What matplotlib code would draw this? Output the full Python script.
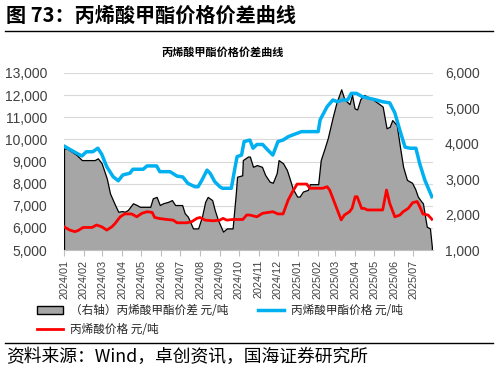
import matplotlib
matplotlib.use("Agg")
import matplotlib.pyplot as plt
import matplotlib.dates as mdates
import matplotlib.transforms as mtransforms
from matplotlib.lines import Line2D
from matplotlib.patches import Patch
import pandas as pd

plt.rcParams['font.family'] = ['Liberation Sans', 'Noto Sans CJK SC', 'DejaVu Sans']
CJK = ['Noto Sans CJK SC', 'DejaVu Sans']

# ---------------- data ----------------
mma_dates = ["2024-01-01", "2024-01-21", "2024-01-29", "2024-02-05", "2024-02-15", "2024-02-23",
             "2024-02-29", "2024-03-08", "2024-03-18", "2024-03-26", "2024-04-02", "2024-04-13",
             "2024-04-18", "2024-05-04", "2024-05-10", "2024-05-25", "2024-05-30", "2024-06-15",
             "2024-06-26", "2024-07-05", "2024-07-13", "2024-07-24", "2024-07-29", "2024-08-04",
             "2024-08-12", "2024-08-17", "2024-08-24", "2024-09-01", "2024-09-05", "2024-09-19",
             "2024-09-25", "2024-09-28", "2024-10-05", "2024-10-09", "2024-10-18", "2024-10-23",
             "2024-10-29", "2024-11-07", "2024-11-15", "2024-11-23", "2024-12-01", "2024-12-09",
             "2024-12-17", "2024-12-24", "2025-01-07", "2025-02-02", "2025-02-05", "2025-02-16",
             "2025-02-25", "2025-03-04", "2025-03-12", "2025-03-20", "2025-03-26", "2025-04-03",
             "2025-04-12", "2025-05-04", "2025-05-14", "2025-05-25", "2025-06-02", "2025-06-10",
             "2025-06-18", "2025-06-26", "2025-07-05", "2025-07-11", "2025-07-19", "2025-07-30"]
mma_price = [9700, 9370, 9250, 9440, 9440, 9600,
             9330, 8760, 8310, 8130, 8390, 8470,
             8650, 8650, 8800, 8800, 8540, 8540,
             8340, 8300, 8010, 7860, 7860, 8160,
             8610, 8460, 8090, 7860, 7790, 7790,
             8760, 9220, 9290, 9900, 9970, 9600,
             9770, 9770, 9520, 9290, 9900, 9970,
             10120, 10200, 10350, 10350, 10880, 11480,
             11780, 11700, 11780, 11780, 12080, 12080,
             11930, 11780, 11700, 11650, 11200, 10400,
             9650, 9600, 9600, 8900, 8160, 7410]

aa_dates = ["2024-01-01", "2024-01-10", "2024-01-18", "2024-01-23", "2024-01-31", "2024-02-14",
            "2024-02-21", "2024-02-29", "2024-03-08", "2024-03-16", "2024-03-21", "2024-03-29",
            "2024-04-05", "2024-04-16", "2024-04-24", "2024-05-02", "2024-05-10", "2024-05-18",
            "2024-05-22", "2024-05-30", "2024-06-10", "2024-06-20", "2024-06-26", "2024-07-11",
            "2024-07-19", "2024-07-27", "2024-08-01", "2024-08-09", "2024-08-21", "2024-09-01",
            "2024-09-06", "2024-09-12", "2024-09-21", "2024-10-07", "2024-10-13", "2024-10-18",
            "2024-10-29", "2024-11-07", "2024-11-23", "2024-12-01", "2024-12-09", "2024-12-17",
            "2024-12-24", "2024-12-31", "2025-01-15", "2025-01-20", "2025-02-09", "2025-02-16",
            "2025-02-20", "2025-02-28", "2025-03-04", "2025-03-10", "2025-03-15", "2025-03-23",
            "2025-03-27", "2025-04-01", "2025-04-04", "2025-04-11", "2025-04-15", "2025-04-20",
            "2025-05-14", "2025-05-20", "2025-05-25", "2025-06-02", "2025-06-10", "2025-06-15",
            "2025-06-23", "2025-06-30", "2025-07-07", "2025-07-11", "2025-07-16", "2025-07-24",
            "2025-07-30"]
aa_price = [6050, 5900, 5830, 5880, 6020, 6020,
            6130, 6050, 5900, 6050, 6200, 6500,
            6630, 6630, 6500, 6660, 6730, 6700,
            6470, 6420, 6380, 6350, 6230, 6230,
            6280, 6430, 6470, 6350, 6320, 6350,
            6430, 6350, 6380, 6380, 6580, 6580,
            6500, 6660, 6730, 6630, 6630, 7260,
            7640, 7980, 7980, 7790, 7790, 7860,
            7710, 7110, 6810, 6360, 6580, 6730,
            6880, 7410, 7410, 6880, 6880, 6810,
            6810, 7710, 7110, 6500, 6580, 6730,
            6880, 7140, 7190, 6960, 6630, 6580,
            6390]

spread_dates = ["2024-01-01", "2024-01-05", "2024-01-13", "2024-01-21", "2024-01-29", "2024-02-18",
                "2024-02-23", "2024-02-29", "2024-03-08", "2024-03-13", "2024-03-21", "2024-03-26",
                "2024-04-01", "2024-04-05", "2024-04-10", "2024-04-18", "2024-04-24", "2024-04-29",
                "2024-05-15", "2024-05-19", "2024-05-25", "2024-05-30", "2024-06-04", "2024-06-12",
                "2024-06-18", "2024-06-23", "2024-07-04", "2024-07-08", "2024-07-13", "2024-07-21",
                "2024-07-29", "2024-08-04", "2024-08-09", "2024-08-13", "2024-08-20", "2024-08-24",
                "2024-08-29", "2024-09-06", "2024-09-12", "2024-09-21", "2024-09-26", "2024-09-28",
                "2024-10-06", "2024-10-07", "2024-10-15", "2024-10-18", "2024-10-23", "2024-10-29",
                "2024-11-06", "2024-11-11", "2024-11-18", "2024-11-23", "2024-11-29", "2024-12-02",
                "2024-12-09", "2024-12-15", "2024-12-20", "2024-12-24", "2024-12-31", "2025-01-04",
                "2025-01-09", "2025-01-17", "2025-01-20", "2025-02-02", "2025-02-06", "2025-02-12",
                "2025-02-17", "2025-02-25", "2025-03-03", "2025-03-07", "2025-03-10", "2025-03-15",
                "2025-03-23", "2025-03-27", "2025-03-31", "2025-04-04", "2025-04-09", "2025-04-15",
                "2025-04-28", "2025-05-09", "2025-05-14", "2025-05-20", "2025-05-25", "2025-05-29",
                "2025-06-05", "2025-06-10", "2025-06-15", "2025-06-21", "2025-06-29", "2025-07-04",
                "2025-07-08", "2025-07-14", "2025-07-16", "2025-07-22", "2025-07-27", "2025-07-30"]
spread = [3870, 3870, 3780, 3680, 3540, 3540,
          3590, 3450, 3020, 2600, 2270, 2080,
          2100, 2080, 2130, 2320, 2270, 2220,
          2220, 2460, 2500, 2270, 2320, 2360,
          2410, 2270, 2270, 2040, 1940, 1610,
          1610, 1940, 2360, 2500, 2410, 2130,
          1850, 1520, 1610, 1610, 2600, 3070,
          3110, 3540, 3640, 3640, 3350, 3400,
          3350, 3120, 2930, 2900, 3170, 3540,
          3450, 3260, 2980, 2740, 2510, 2510,
          2650, 2700, 2860, 2860, 3540, 3870,
          4160, 4770, 5190, 5380, 5540, 5260,
          5120, 5380, 5000, 4970, 5260, 5380,
          5260, 5120, 5050, 4440, 4480, 4670,
          4530, 3920, 3350, 2980, 2900, 2720,
          2510, 2360, 2320, 1660, 1610, 1090]

left_ticks = [5000, 6000, 7000, 8000, 9000, 10000, 11000, 12000, 13000]
right_ticks = [1000, 2000, 3000, 4000, 5000, 6000]

legend_labels = ["（右轴）丙烯酸甲酯价差 元/吨", "丙烯酸价格 元/吨", "丙烯酸甲酯价格 元/吨"]
header = "图 73：丙烯酸甲酯价格价差曲线"
chart_title = "丙烯酸甲酯价格价差曲线"
source = "资料来源：Wind，卓创资讯，国海证券研究所"

# ---------------- figure ----------------
W, H = 498, 372
fig = plt.figure(figsize=(W / 100, H / 100), dpi=100)

def fx(px):
    return px / W

def fy(py):
    return 1 - py / H

x0, x1, y0, y1 = 64, 432.5, 73, 250
ax2 = fig.add_axes([fx(x0), fy(y1), fx(x1) - fx(x0), fy(y0) - fy(y1)])
ax = ax2.twinx()
ax.yaxis.tick_left()
ax2.yaxis.tick_right()
ax.set_zorder(ax2.get_zorder() + 1)
ax.patch.set_visible(False)

md = pd.to_datetime(mma_dates)
ad = pd.to_datetime(aa_dates)
sd = pd.to_datetime(spread_dates)

ax.set_ylim(5000, 13000)
ax2.set_ylim(1000, 6000)
xmin, xmax = pd.Timestamp("2024-01-01"), pd.Timestamp("2025-07-31")
ax2.set_xlim(xmin, xmax)

# gridlines (left-axis values) drawn beneath the area
trans = mtransforms.blended_transform_factory(ax2.transAxes, ax.transData)
for v in left_ticks[1:]:
    ax2.add_line(Line2D([0, 1], [v, v], transform=trans, color='#d9d9d9', lw=0.8, zorder=0))

ax2.fill_between(sd, spread, 0, facecolor='#a6a6a6', edgecolor='black', lw=0.9, zorder=1)

ax.plot(md, mma_price, color='#00b0f0', lw=2.5, solid_joinstyle='round')
ax.plot(ad, aa_price, color='#ff0000', lw=2.0, solid_joinstyle='round')

ax.set_yticks(left_ticks)
ax.set_yticklabels([f"{v:,}" for v in left_ticks])
ax2.set_yticks(right_ticks)
ax2.set_yticklabels([f"{v:,}" for v in right_ticks])
for a in (ax, ax2):
    for s in a.spines.values():
        s.set_visible(False)
ax.tick_params(axis='y', length=0, labelsize=10, pad=12, colors='#404040')
ax2.tick_params(axis='y', length=0, labelsize=10, pad=9, colors='#404040')

ax2.spines['bottom'].set_visible(True)
ax2.spines['bottom'].set_color('#bfbfbf')
ax2.xaxis.set_major_locator(mdates.MonthLocator())
ax2.xaxis.set_major_formatter(mdates.DateFormatter("%Y/%m"))
ax2.tick_params(axis='x', length=4, color='#bfbfbf', labelsize=7.8, pad=3,
                labelrotation=90, labelcolor='#404040')
ax.tick_params(axis='x', bottom=False, labelbottom=False)

# titles and texts
fig.text(fx(6), fy(15), header, fontsize=14.5, fontweight='bold', family=CJK, va='center', ha='left')
fig.add_artist(Line2D([fx(5), fx(493)], [fy(31), fy(31)], color='black', lw=1.0))
fig.text(fx(223), fy(52), chart_title, fontsize=8, fontweight='bold', family=CJK, va='center', ha='center')
fig.add_artist(Line2D([fx(5), fx(493)], [fy(343), fy(343)], color='black', lw=1.0))
fig.text(fx(6), fy(357), source, fontsize=12.8, family=CJK, va='center', ha='left')

handles = [Patch(facecolor='#a6a6a6', edgecolor='black', lw=1.0),
           Line2D([], [], color='#ff0000', lw=2.0),
           Line2D([], [], color='#00b0f0', lw=2.5)]
leg = fig.legend(handles, [legend_labels[0], legend_labels[1], legend_labels[2]],
                 loc='upper left', bbox_to_anchor=(fx(37), fy(304)), ncol=2, frameon=False,
                 borderpad=0, borderaxespad=0, handlelength=2.2, handleheight=0.7,
                 handletextpad=0.6, columnspacing=2.6, labelspacing=0.5,
                 prop={'family': CJK, 'size': 8.4})
for t in leg.get_texts():
    t.set_color('#262626')

fig.savefig("out.png", dpi=100)
